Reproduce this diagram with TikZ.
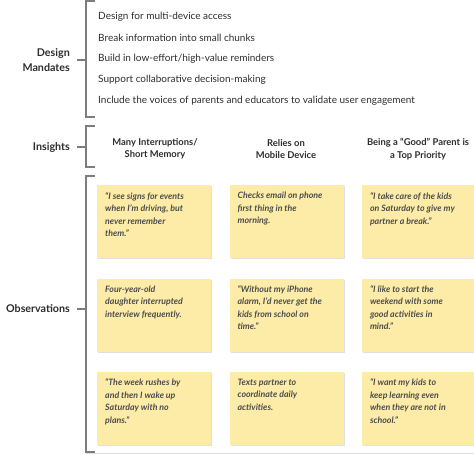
\documentclass[tikz,border=0pt]{standalone}
\usepackage{fontspec}
\setmainfont{Lato}
\usetikzlibrary{positioning, shadows}
\definecolor{notefill}{RGB}{253,236,168}
\definecolor{bracketgray}{RGB}{125,125,125}
\definecolor{inkgray}{RGB}{45,45,45}
\newcommand{\stickytext}[1]{\parbox[c][59pt][t]{98pt}{\raggedright #1}}

\begin{document}
\begin{tikzpicture}[x=1pt, y=-1pt,
        node distance=20pt and 18pt,
        mandate/.style={anchor=west, inner sep=0pt, text=inkgray, font=\fontsize{10}{12}\selectfont},
        rowlabel/.style={anchor=east, align=right, inner sep=0pt, text=inkgray, font=\fontsize{10.7}{15}\selectfont\bfseries},
        insight/.style={align=center, inner sep=0pt, text=inkgray, font=\fontsize{9.4}{12.5}\selectfont\bfseries},
        sticky/.style={fill=notefill, inner xsep=8pt, inner ysep=7pt, text=inkgray!85, font=\fontsize{8.8}{12.5}\selectfont\bfseries\itshape, drop shadow={shadow xshift=1pt, shadow yshift=-1pt, fill=black!12, opacity=1}},
        bracket/.style={draw=bracketgray, line width=1.2pt},
    ]
    \useasboundingbox (0,0) rectangle (474,455);

    % Design Mandates
    \node[rowlabel] (dm) at (70,60) {Design\\Mandates};
    \node[mandate] (m1) at (98,17) {Design for multi-device access};
    \node[mandate] (m2) at (98,38) {Break information into small chunks};
    \node[mandate] (m3) at (98,59) {Build in low-effort/high-value reminders};
    \node[mandate] (m4) at (98,80) {Support collaborative decision-making};
    \node[mandate] (m5) at (98,101) {Include the voices of parents and educators to validate user engagement};
    \coordinate (dmb) at (86,60);
    \draw[bracket] (95,1) -- (86,1) -- (86,117) -- (95,117);
    \draw[bracket] ([xshift=7pt]dm.east) -- (dmb);

    % Insights
    \node[rowlabel] (ins) at (70,147) {Insights};
    \node[insight] (i1) at (155,149) {Many Interruptions/\\Short Memory};
    \node[insight] (i2) at (286,149) {Relies on\\Mobile Device};
    \node[insight] (i3) at (418,149) {Being a “Good” Parent is\\a Top Priority};
    \coordinate (insb) at (86,147);
    \draw[bracket] (95,126) -- (86,126) -- (86,167) -- (95,167);
    \draw[bracket] ([xshift=7pt]ins.east) -- (insb);

    % Observations
    \node[rowlabel] (obs) at (70,309) {Observations};
    \coordinate (obsb) at (86,309);
    \draw[black!13, line width=1pt] (86,453) -- (474,453);
    \draw[bracket] (95,176) -- (86,176) -- (86,452) -- (95,452);
    \draw[bracket] ([xshift=7pt]obs.east) -- (obsb);

    % Sticky notes
    \node[sticky, anchor=north west] (o11) at (97,185) {\stickytext{“I see signs for events\\when I’m driving, but\\never remember\\them.”}};
    \node[sticky, right=of o11] (o12) {\stickytext{Checks email on phone\\first thing in the\\morning.}};
    \node[sticky, right=of o12] (o13) {\stickytext{“I take care of the kids\\on Saturday to give my\\partner a break.”}};
    \node[sticky, below=of o11] (o21) {\stickytext{Four-year-old\\daughter interrupted\\interview frequently.}};
    \node[sticky, right=of o21] (o22) {\stickytext{“Without my iPhone\\alarm, I’d never get the\\kids from school on\\time.”}};
    \node[sticky, right=of o22] (o23) {\stickytext{“I like to start the\\weekend with some\\good activities in\\mind.”}};
    \node[sticky, below=of o21] (o31) {\stickytext{“The week rushes by\\and then I wake up\\Saturday with no\\plans.”}};
    \node[sticky, right=of o31] (o32) {\stickytext{Texts partner to\\coordinate daily\\activities.}};
    \node[sticky, right=of o32] (o33) {\stickytext{“I want my kids to\\keep learning even\\when they are not in\\school.”}};
\end{tikzpicture}
\end{document}
